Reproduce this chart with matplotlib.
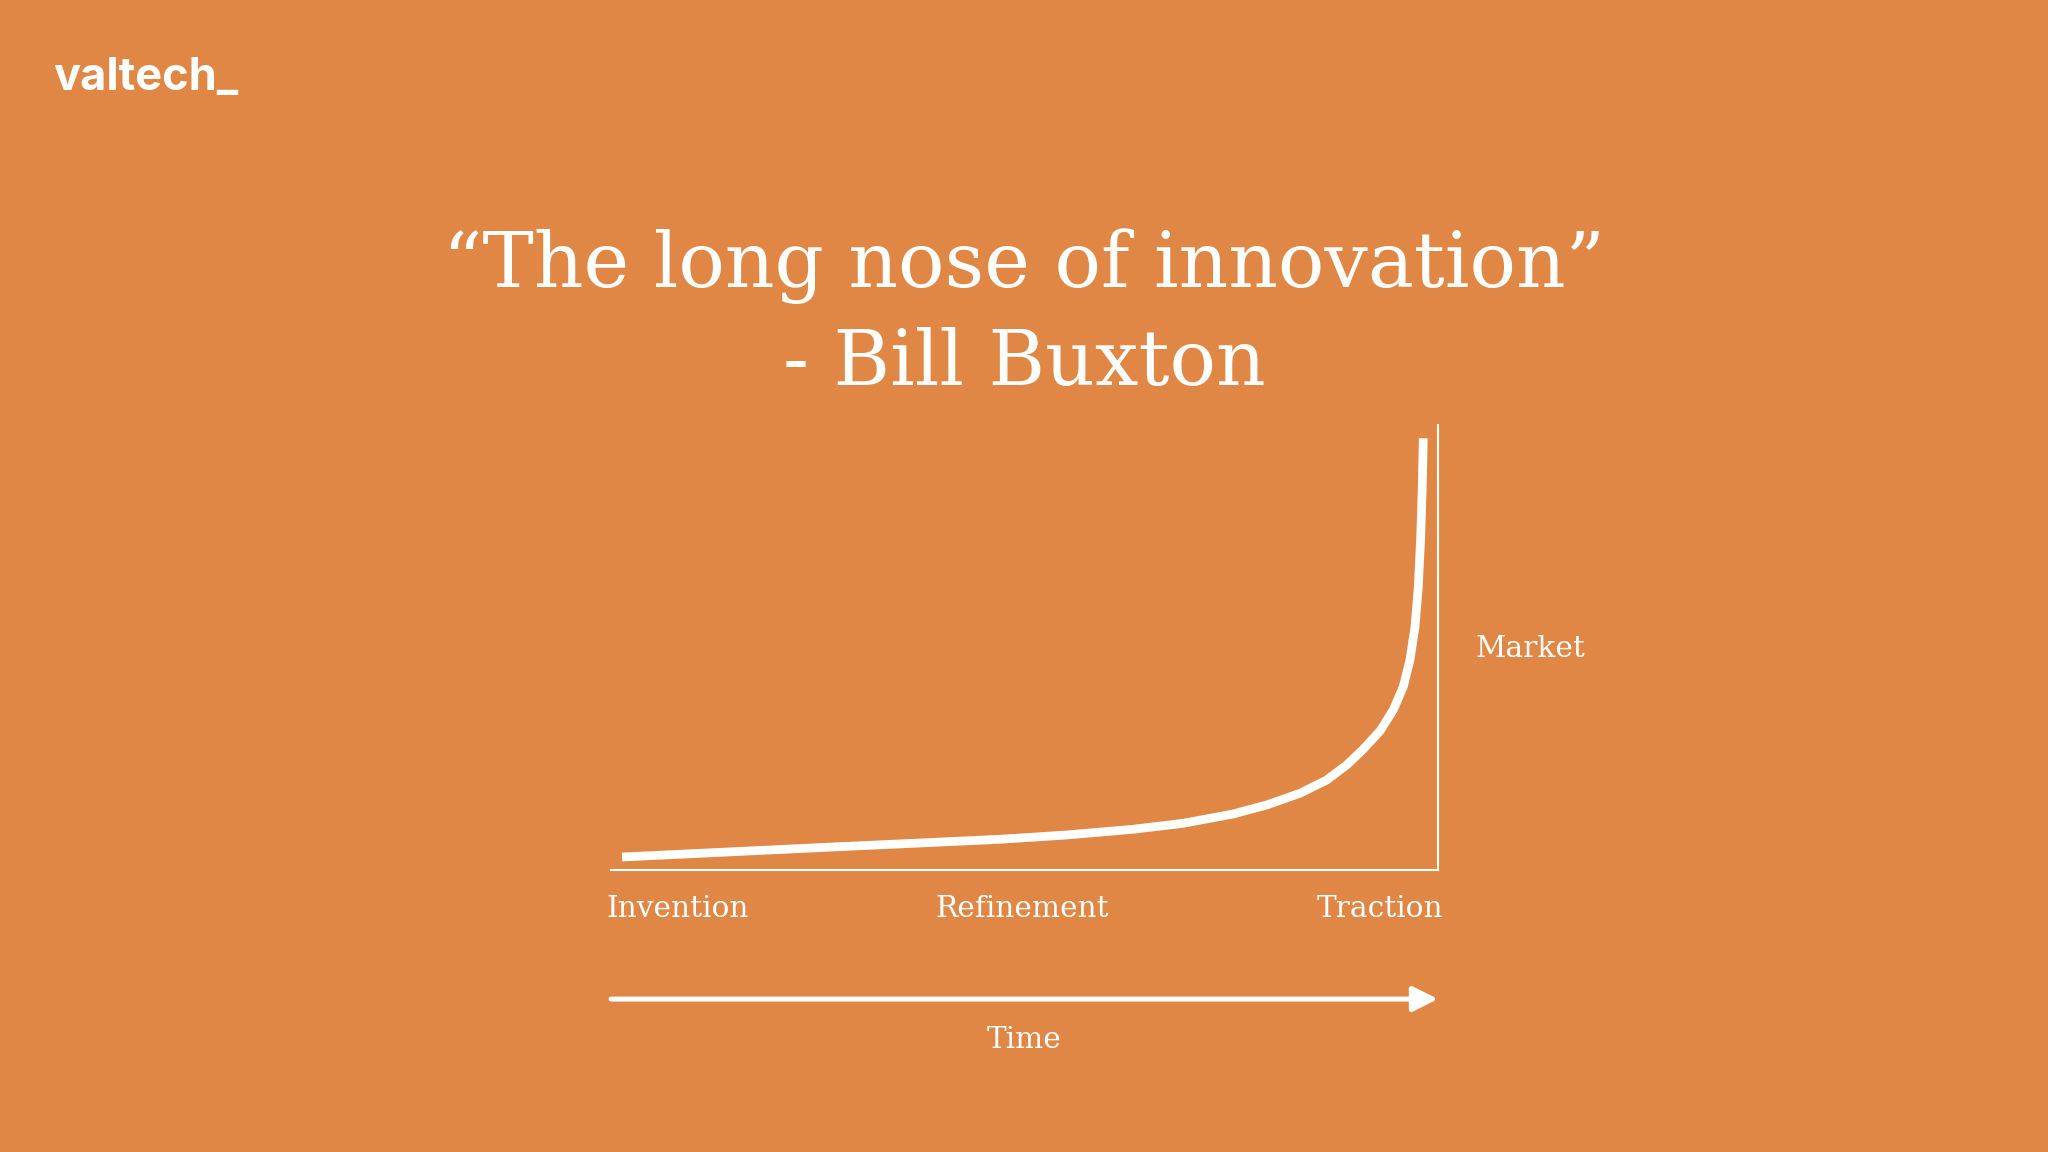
import matplotlib
matplotlib.use("Agg")
import matplotlib.pyplot as plt

BG = "#E08745"
FG = "white"

# curve: time (0-100 along the x axis) vs market (0-100 up the y axis)
time_pts = [1.33, 26.84, 47.04, 55.10, 63.12, 69.17, 75.21, 79.29, 83.31, 86.54, 88.96,
            90.93, 92.99, 94.59, 95.80, 96.61, 97.22, 97.62, 97.91, 98.10, 98.22]
market_pts = [2.92, 5.17, 6.90, 7.87, 9.15, 10.49, 12.58, 14.61, 17.24, 20.22, 23.60,
              27.08, 31.24, 35.96, 41.19, 47.19, 54.67, 63.66, 74.90, 86.13, 97.01]

stage_labels = ["Invention", "Refinement", "Traction"]
stage_x = [-0.6, 49.7, 100.6]
stage_ha = ["left", "center", "right"]

title_line1 = "\u201cThe long nose of innovation\u201d"
title_line2 = "- Bill Buxton"

fig = plt.figure(figsize=(20.48, 11.52), dpi=100)
fig.patch.set_facecolor(BG)

W, H = 2048, 1152
ax = fig.add_axes([611 / W, 1 - 870 / H, (1438 - 611) / W, (870 - 425) / H])
ax.set_facecolor(BG)
ax.set_xlim(0, 100)
ax.set_ylim(0, 100)
for s in ["left", "top"]:
    ax.spines[s].set_visible(False)
for s in ["bottom", "right"]:
    ax.spines[s].set_color(FG)
    ax.spines[s].set_linewidth(1.5)
ax.set_xticks([])
ax.set_yticks([])

ax.plot(time_pts, market_pts, color=FG, lw=6.3, solid_capstyle="butt", solid_joinstyle="round")

serif = "DejaVu Serif"
lab_size = 21.3
for lab, x, ha in zip(stage_labels, stage_x, stage_ha):
    ax.text(x, -10.6, lab, ha=ha, va="baseline", color=FG, fontsize=lab_size, family=serif, clip_on=False)

ax.text(104.5, 47.9, "Market", ha="left", va="baseline", color=FG, fontsize=lab_size, family=serif, clip_on=False)

# time arrow under the chart
ax.annotate("", xy=(100, -29), xytext=(0, -29), annotation_clip=False,
            arrowprops=dict(arrowstyle="-|>", color=FG, lw=3.6, mutation_scale=38,
                            shrinkA=0, shrinkB=0))
ax.text(49.9, -40, "Time", ha="center", va="baseline", color=FG, fontsize=lab_size, family=serif, clip_on=False)

fig.text(0.5, 1 - 287 / H, title_line1, ha="center", va="baseline", color=FG, fontsize=55.5, family=serif)
fig.text(0.5, 1 - 385 / H, title_line2, ha="center", va="baseline", color=FG, fontsize=55.5, family=serif)

fig.text(53 / W, 1 - 90 / H, "valtech_", ha="left", va="baseline", color=FG,
         fontsize=32.5, fontweight="bold", family="Inter")

fig.savefig("out.png", dpi=100, facecolor=BG)
